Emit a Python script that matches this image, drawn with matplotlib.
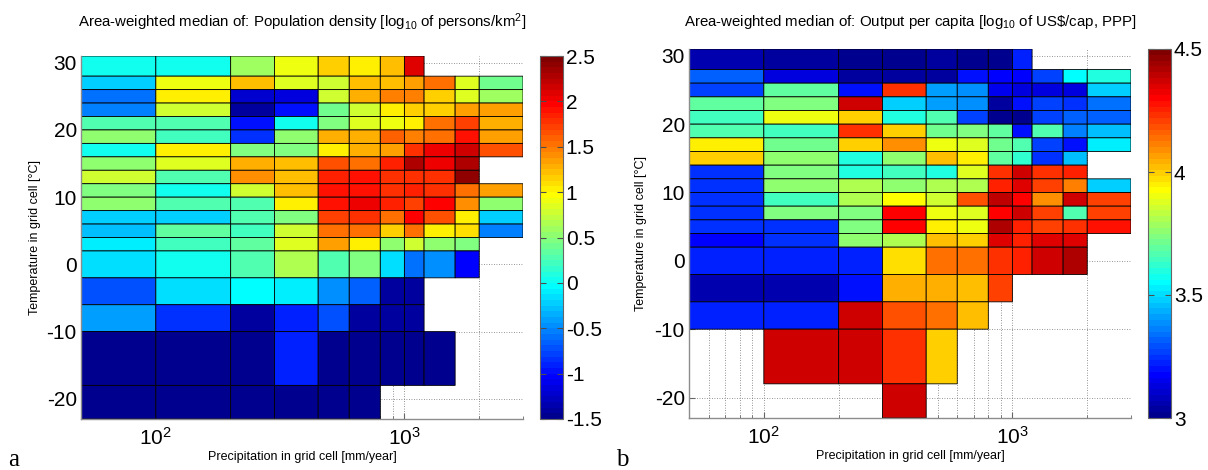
import matplotlib
matplotlib.use('Agg')
import matplotlib.pyplot as plt
import numpy as np
from matplotlib.colors import ListedColormap
from matplotlib.ticker import NullFormatter, FixedLocator

plt.rcParams['font.family'] = ['Liberation Sans', 'DejaVu Sans']
plt.rcParams['mathtext.default'] = 'regular'
plt.rcParams['axes.unicode_minus'] = False

# ---------------------------------------------------------------- #
# DONNEES
# ---------------------------------------------------------------- #
# bornes des classes de precipitation (mm/an) et de temperature (deg C, haut -> bas)
precip_bords = [50, 100, 200, 300, 450, 600, 800, 1000, 1200, 1600, 2000, 3000]
temp_bords = [31, 28, 26, 24, 22, 20, 18, 16, 14, 12, 10, 8, 6, 4, 2, -2, -6, -10, -18, -23]

nan = np.nan

# a : densite de population [log10 personnes/km2], lignes du haut vers le bas
pop_densite = [
    [0.0, 0.0, 0.6, 0.9, 1.15, 1.0, 1.2, 2.1, nan, nan, nan],
    [-0.25, 0.9, 1.2, 0.85, 0.75, 1.2, 1.2, 1.35, 1.5, 0.85, 0.4],
    [-0.57, 1.0, -1.2, -1.15, 0.75, 1.3, 1.45, 1.45, 1.15, 0.85, 0.6],
    [-0.55, 0.75, -1.4, -1.0, 0.4, 0.8, 1.0, 1.15, 1.15, 1.35, 1.35],
    [0.25, 0.25, -0.95, 0.0, 0.45, 0.85, 0.9, 1.05, 1.55, 1.7, 1.25],
    [0.5, 0.2, -0.85, 0.5, 1.25, 1.3, 1.6, 1.45, 1.5, 1.9, 1.35],
    [0.0, 1.0, 0.45, 0.45, 1.0, 1.3, 1.35, 1.75, 2.05, 2.15, 1.65],
    [0.55, 0.85, 1.25, 1.2, 1.65, 1.55, 1.85, 2.25, 2.05, 2.3, nan],
    [0.8, 0.25, 1.4, 1.2, 1.85, 1.9, 1.8, 1.75, 1.75, 2.4, nan],
    [0.45, 0.0, 0.75, 1.2, 1.9, 1.9, 1.8, 1.85, 1.75, 1.5, 1.35],
    [0.5, 0.25, 0.3, 1.0, 1.9, 2.05, 1.85, 1.7, 1.95, 1.4, 0.5],
    [-0.2, -0.2, 0.3, 0.45, 1.7, 1.8, 1.55, 1.95, 1.65, 1.05, -0.2],
    [-0.3, 0.35, 0.2, 0.75, 1.55, 1.55, 1.15, 1.55, 1.05, 1.1, -0.55],
    [-0.1, 0.2, 0.35, 0.85, 1.35, 1.0, 0.5, 0.75, 0.5, 0.45, nan],
    [-0.15, 0.0, 0.3, 0.65, 0.25, 0.45, -0.15, -0.6, -0.45, -1.05, nan],
    [-0.75, -0.15, -0.05, -0.1, -0.45, -0.65, -1.4, -1.4, nan, nan, nan],
    [-0.4, -0.85, -1.4, -0.9, -0.75, -1.4, -1.4, -1.4, nan, nan, nan],
    [-1.45, -1.45, -1.45, -0.9, -1.45, -1.45, -1.45, -1.45, -1.45, nan, nan],
    [-1.45, -1.45, -1.45, -1.45, -1.45, -1.45, nan, nan, nan, nan, nan],
]

# b : production par habitant [log10 US$/hab, PPA]
prod_habitant = [
    [3.07, 3.03, 3.02, 3.02, 3.03, 3.02, 3.02, 3.22, nan, nan, nan],
    [3.32, 3.12, 3.03, 3.03, 3.03, 3.21, 3.18, 3.18, 3.28, 3.56, 3.6],
    [3.28, 3.7, 3.2, 4.24, 3.42, 3.39, 3.15, 3.14, 3.13, 3.13, 3.48],
    [3.68, 3.74, 4.36, 3.48, 3.42, 3.39, 3.03, 3.2, 3.27, 3.24, 3.34],
    [3.65, 3.91, 3.99, 3.6, 3.67, 3.28, 3.02, 3.0, 3.27, 3.31, 3.31],
    [3.67, 3.64, 4.24, 4.0, 3.71, 3.74, 3.69, 3.21, 3.66, 3.36, 3.46],
    [3.96, 3.71, 3.99, 4.1, 3.9, 3.87, 3.71, 3.66, 3.28, 3.21, 3.52],
    [4.0, 3.77, 3.6, 3.77, 4.02, 3.95, 3.68, 3.63, 3.25, 3.46, nan],
    [3.24, 3.74, 3.59, 3.64, 3.59, 3.87, 4.24, 4.38, 4.23, 4.25, nan],
    [3.24, 3.77, 3.82, 3.77, 3.8, 3.82, 4.26, 4.34, 4.2, 4.12, 3.48],
    [3.24, 3.65, 3.8, 3.92, 3.86, 4.19, 4.39, 4.3, 4.1, 4.36, 4.2],
    [3.24, 3.74, 3.74, 4.3, 3.9, 3.89, 4.31, 4.36, 4.2, 3.66, 4.2],
    [3.24, 3.24, 3.74, 4.3, 3.94, 3.9, 4.41, 4.26, 4.21, 4.23, 4.28],
    [3.18, 3.24, 3.77, 3.82, 4.03, 3.99, 4.34, 4.26, 4.35, 4.34, nan],
    [3.22, 3.22, 3.22, 3.98, 4.13, 4.13, 4.24, 4.26, 4.36, 4.42, nan],
    [3.06, 3.06, 3.21, 4.05, 4.05, 4.02, 4.2, nan, nan, nan, nan],
    [3.22, 3.22, 4.36, 4.19, 4.14, 4.02, nan, nan, nan, nan, nan],
    [nan, 4.36, 4.36, 4.24, 4.0, nan, nan, nan, nan, nan, nan],
    [nan, nan, nan, 4.36, nan, nan, nan, nan, nan, nan, nan],
]

titre_a = 'Area-weighted median of: Population density [log$_{10}$ of persons/km$^2$]'
titre_b = 'Area-weighted median of: Output per capita [log$_{10}$ of US\\$/cap, PPP]'
ticks_cb_a = [-1.5, -1, -0.5, 0, 0.5, 1, 1.5, 2, 2.5]
labels_cb_a = ['-1.5', '-1', '-0.5', '0', '0.5', '1', '1.5', '2', '2.5']
ticks_cb_b = [3, 3.5, 4, 4.5]
labels_cb_b = ['3', '3.5', '4', '4.5']


# ---------------------------------------------------------------- #
# FONCTIONS
# ---------------------------------------------------------------- #
W, H = 1208, 470


def jet_matlab(m=64):  # palette jet(64) façon MATLAB
    x = np.arange(1, m + 1) / m
    r = np.clip(1.5 - np.abs(4 * x - 3), 0, 1)
    g = np.clip(1.5 - np.abs(4 * x - 2), 0, 1)
    b = np.clip(1.5 - np.abs(4 * x - 1), 0, 1)
    return ListedColormap(np.column_stack([r, g, b]))


def boite(x0, y0, x1, y1):  # pixels (haut-gauche) -> fraction de figure
    return [x0 / W, 1 - y1 / H, (x1 - x0) / W, (y1 - y0) / H]


def panneau(fig, pos_ax, pos_cb, valeurs, vmin, vmax, titre, ticks_cb, labels_cb,
            lettre, x_lettre, x_ylabel):
    ax = fig.add_axes(boite(*pos_ax))
    cax = fig.add_axes(boite(*pos_cb))

    z = np.ma.masked_invalid(np.array(valeurs))
    pc = ax.pcolor(precip_bords, temp_bords, z, cmap=jet_matlab(), vmin=vmin, vmax=vmax,
                   edgecolors='k', linewidth=0.6, zorder=2)

    ax.set_xscale('log')
    ax.set_xlim(50, 3000)
    ax.set_ylim(-23, 31)
    ax.set_yticks([-20, -10, 0, 10, 20, 30])
    ax.xaxis.set_minor_locator(FixedLocator([50, 60, 70, 80, 90, 200, 300, 400, 500,
                                             600, 700, 800, 900, 2000, 3000]))
    ax.xaxis.set_minor_formatter(NullFormatter())

    ax.set_axisbelow(True)
    ax.grid(True, which='both', linestyle=(0, (1, 2)), color='0.45', linewidth=0.6)

    for s in ['top', 'right']:
        ax.spines[s].set_visible(False)
    for s in ['left', 'bottom']:
        ax.spines[s].set_color('0.55')
        ax.spines[s].set_linewidth(1.0)

    ax.tick_params(which='major', direction='in', length=4, color='0.4', labelsize=15, pad=3)
    ax.tick_params(axis='x', which='major', pad=6)
    ax.tick_params(which='minor', direction='in', length=2.5, color='0.4')

    ax.set_xlabel('Precipitation in grid cell [mm/year]', fontsize=9, labelpad=1)
    ax.set_ylabel('Temperature in grid cell [°C]', fontsize=9)
    ax.yaxis.set_label_coords(x_ylabel, 0.5)

    x_centre = (pos_ax[0] + pos_ax[2]) / 2 / W
    fig.text(x_centre, 1 - 22 / H, titre, fontsize=10.8, ha='center', va='center')

    cb = fig.colorbar(pc, cax=cax)
    cb.set_ticks(ticks_cb)
    cb.set_ticklabels(labels_cb)
    cax.tick_params(direction='in', length=4, left=True, right=True, color='0.3',
                    labelsize=15, pad=2)
    cb.outline.set_edgecolor('0.4')

    fig.text(x_lettre / W, 1 - 460 / H, lettre, fontsize=18, family='Liberation Serif',
             ha='left', va='center')
    return ax


fig = plt.figure(figsize=(W / 100, H / 100), dpi=100)

panneau(fig, (81, 56, 523, 419), (540, 56, 563, 419), pop_densite, -1.5, 2.5,
        titre_a, ticks_cb_a, labels_cb_a, 'a', 8, -0.09)
panneau(fig, (689, 49, 1131, 418), (1148, 49, 1171, 418), prod_habitant, 3, 4.5,
        titre_b, ticks_cb_b, labels_cb_b, 'b', 616, -0.095)

fig.savefig('out.png', dpi=100)
